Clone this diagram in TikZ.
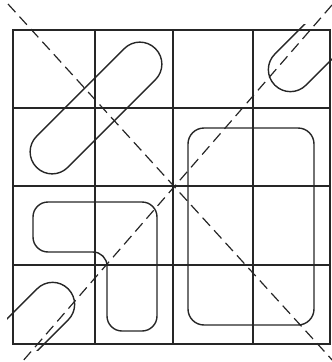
\documentclass[tikz,border=0pt]{standalone}
\begin{document}
\begin{tikzpicture}[x=1pt,y=-1pt,
  gridline/.style={line width=1.4pt,black!85},
  shapeline/.style={line width=1.4pt,black!85},
  diag/.style={line width=1.2pt,black!85,dash pattern=on 11pt off 6pt}]
\useasboundingbox (0,0) rectangle (332,362);
% grid
\draw[gridline] (13,30) rectangle (330,344);
\foreach \x in {95,173,253} \draw[gridline] (\x,30) -- (\x,344);
\foreach \y in {108,186,265} \draw[gridline] (13,\y) -- (330,\y);
% top-left capsule
\draw[shapeline,rounded corners=21.9pt,rotate around={45:(96,108)}] (12,86) rectangle (180,130);
% corner capsules
\begin{scope}
\clip (7,24) rectangle (336,350);
\draw[shapeline,rounded corners=21.9pt,rotate around={45:(330,30)}] (330-78,8) rectangle (330+78,52);
\draw[shapeline,rounded corners=21.9pt,rotate around={45:(13,344)}] (13-78,322) rectangle (13+78,366);
\end{scope}
% big rounded rectangle
\draw[shapeline,rounded corners=16pt] (188,128) rectangle (314,325);
% L-shape
\draw[shapeline,rounded corners=15pt] (93,252) -- (33,252) -- (33,202) -- (157,202) -- (157,331) -- (107,331) -- (107,266);
\draw[shapeline] (107,266) arc[start angle=0,end angle=-90,radius=14];
% diagonals
\draw[diag] (8,4) -- (334,362);
\draw[diag] (332,5) -- (22,362);
\end{tikzpicture}
\end{document}
